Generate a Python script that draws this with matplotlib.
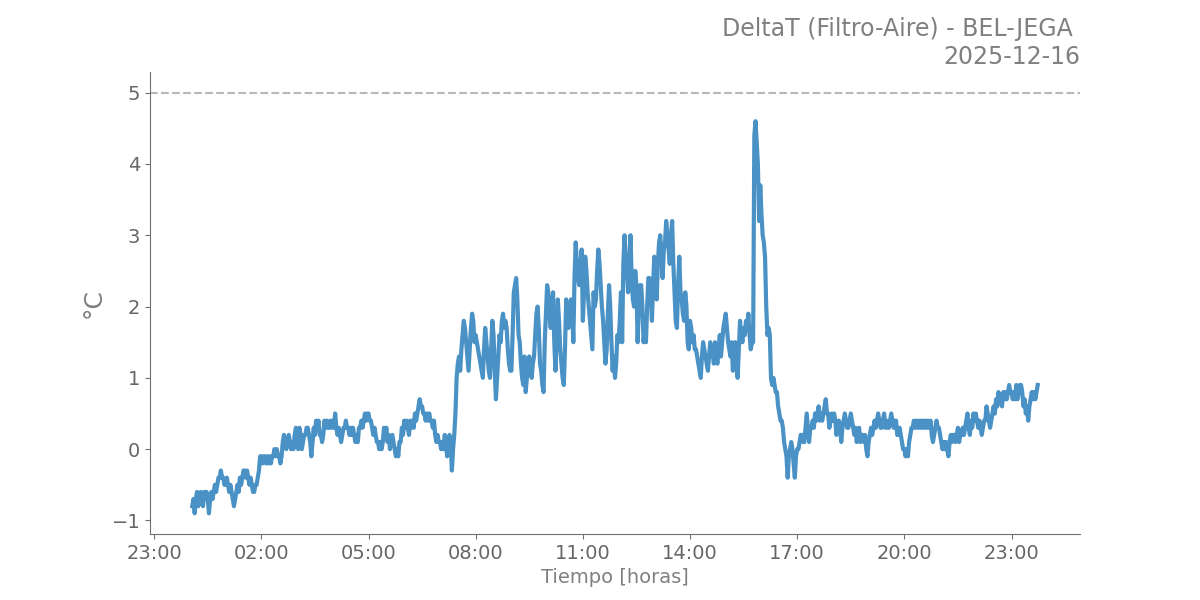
import pandas as pd
import matplotlib
matplotlib.use("Agg")
import matplotlib.pyplot as plt
import matplotlib.dates as mdates

fecha = "2025-12-16"
limite = 5.0

# DeltaT cada 2 minutos, una lista por hora (la hora 0 empieza a las 00:04)
h00 = [-0.8, -0.7, -0.9, -0.7, -0.6, -0.8, -0.7, -0.6, -0.7, -0.8, -0.6, -0.7, -0.6, -0.7,
       -0.9, -0.7, -0.6, -0.7, -0.6, -0.5, -0.6, -0.5, -0.4, -0.4, -0.3, -0.4, -0.4, -0.5]
h01 = [-0.5, -0.4, -0.5, -0.6, -0.5, -0.6, -0.7, -0.8, -0.7, -0.6, -0.5, -0.6, -0.4, -0.5, -0.4,
       -0.3, -0.3, -0.4, -0.3, -0.4, -0.5, -0.4, -0.5, -0.6, -0.6, -0.5, -0.5, -0.4, -0.3, -0.1]
h02 = [-0.1, -0.2, -0.1, -0.1, -0.2, -0.1, -0.2, -0.1, -0.2, -0.1, -0.1, 0.0, -0.1, 0.0, -0.1,
       -0.1, -0.2, -0.1, 0.1, 0.2, 0.1, 0.0, 0.1, 0.2, 0.1, 0.0, 0.1, 0.0, 0.2, 0.3]
h03 = [0.2, 0.0, 0.3, 0.2, 0.0, 0.1, 0.2, 0.2, 0.3, 0.3, 0.2, 0.1, -0.1, 0.1, 0.3,
       0.2, 0.4, 0.3, 0.4, 0.2, 0.2, 0.1, 0.2, 0.4, 0.3, 0.4, 0.3, 0.3, 0.4, 0.3]
h04 = [0.4, 0.3, 0.5, 0.3, 0.2, 0.3, 0.2, 0.1, 0.2, 0.3, 0.3, 0.4, 0.3, 0.3, 0.2,
       0.3, 0.2, 0.3, 0.2, 0.1, 0.2, 0.1, 0.3, 0.3, 0.4, 0.3, 0.4, 0.5, 0.4, 0.5]
h05 = [0.5, 0.4, 0.4, 0.3, 0.2, 0.3, 0.2, 0.1, 0.1, 0.0, 0.1, 0.0, 0.1, 0.3, 0.2,
       0.3, 0.1, 0.2, 0.0, 0.1, 0.2, 0.1, 0.0, -0.1, 0.0, -0.1, 0.1, 0.1, 0.3, 0.2]
h06 = [0.4, 0.3, 0.4, 0.3, 0.2, 0.4, 0.3, 0.4, 0.3, 0.5, 0.4, 0.5, 0.6, 0.7, 0.6,
       0.6, 0.5, 0.5, 0.4, 0.5, 0.4, 0.5, 0.4, 0.4, 0.3, 0.4, 0.2, 0.1, 0.2, 0.1]
h07 = [0.1, 0.0, 0.1, 0.0, 0.2, 0.1, -0.1, 0.1, 0.2, 0.1, -0.3, 0.0, 0.2, 0.5, 1.0,
       1.2, 1.3, 1.1, 1.4, 1.6, 1.8, 1.7, 1.5, 1.3, 1.1, 1.4, 1.7, 1.9, 1.8, 1.5]
h08 = [1.6, 1.5, 1.4, 1.3, 1.2, 1.1, 1.0, 1.4, 1.7, 1.5, 1.3, 1.1, 1.0, 1.4, 1.8,
       1.6, 1.1, 0.7, 1.0, 1.3, 1.6, 1.5, 1.8, 1.9, 1.7, 1.8, 1.7, 1.4, 1.2, 1.1]
h09 = [1.1, 1.6, 2.2, 2.3, 2.4, 2.1, 1.6, 1.5, 1.2, 1.0, 0.9, 1.3, 0.8, 1.0, 1.2,
       1.3, 1.1, 1.0, 1.2, 1.3, 1.6, 1.9, 2.0, 1.7, 1.2, 1.1, 0.9, 0.8, 1.5, 1.9]
h10 = [2.3, 2.2, 1.9, 1.7, 2.0, 2.2, 1.5, 1.1, 1.6, 2.1, 1.8, 1.4, 1.2, 1.0, 0.9,
       1.4, 2.1, 1.9, 1.7, 1.9, 2.1, 2.0, 1.5, 2.4, 2.9, 2.6, 2.4, 2.3, 2.6, 2.8]
h11 = [1.8, 2.2, 2.7, 2.5, 2.2, 2.0, 1.8, 1.6, 1.4, 2.2, 2.0, 2.1, 2.5, 2.8, 2.6,
       2.3, 2.0, 1.8, 1.5, 1.2, 1.4, 1.9, 2.3, 2.0, 1.5, 1.1, 1.3, 1.0, 1.2, 1.6]
h12 = [1.5, 1.8, 2.2, 1.5, 2.6, 3.0, 2.7, 2.5, 2.2, 2.6, 3.0, 2.4, 2.1, 2.0, 2.5,
       2.3, 1.5, 2.0, 2.3, 2.3, 2.0, 1.5, 1.7, 1.5, 2.0, 2.4, 2.4, 2.2, 1.8, 2.3]
h13 = [2.7, 2.4, 2.1, 2.6, 2.9, 3.0, 2.7, 2.4, 2.8, 2.9, 3.2, 3.0, 2.8, 2.6, 3.0,
       3.2, 2.6, 2.2, 1.8, 1.7, 2.3, 2.7, 2.2, 2.1, 1.9, 1.8, 2.2, 2.0, 1.5, 1.4]
h14 = [1.8, 1.7, 1.5, 1.6, 1.4, 1.4, 1.3, 1.2, 1.1, 1.0, 1.3, 1.5, 1.4, 1.3, 1.2,
       1.1, 1.3, 1.5, 1.3, 1.4, 1.2, 1.5, 1.3, 1.2, 1.4, 1.6, 1.3, 1.5, 1.7, 1.8]
h15 = [1.9, 1.7, 1.5, 1.4, 1.3, 1.5, 1.1, 1.4, 1.5, 1.2, 1.0, 1.4, 1.8, 1.6, 1.5,
       1.7, 1.6, 1.8, 1.7, 1.9, 1.6, 1.4, 1.5, 1.5, 4.4, 4.6, 4.3, 4.0, 3.2, 3.7]
h16 = [3.3, 3.0, 2.9, 2.7, 2.0, 1.6, 1.7, 1.6, 1.0, 0.9, 1.0, 0.9, 0.8, 0.8, 0.6,
       0.5, 0.4, 0.4, 0.3, 0.1, 0.0, -0.1, -0.4, -0.1, 0.0, 0.1, 0.0, -0.2, -0.4, -0.1]
h17 = [0.0, 0.0, 0.1, 0.2, 0.2, 0.1, 0.1, 0.3, 0.5, 0.3, 0.1, 0.3, 0.3, 0.4, 0.3,
       0.5, 0.4, 0.5, 0.6, 0.4, 0.5, 0.4, 0.5, 0.6, 0.7, 0.5, 0.5, 0.3, 0.4, 0.5]
h18 = [0.4, 0.5, 0.4, 0.2, 0.3, 0.4, 0.3, 0.1, 0.3, 0.4, 0.5, 0.4, 0.3, 0.3, 0.4,
       0.5, 0.4, 0.3, 0.2, 0.3, 0.1, 0.2, 0.3, 0.1, 0.2, 0.2, 0.1, 0.2, 0.0, -0.1]
h19 = [0.1, 0.2, 0.3, 0.2, 0.3, 0.4, 0.3, 0.4, 0.5, 0.4, 0.3, 0.3, 0.4, 0.5, 0.3,
       0.4, 0.3, 0.3, 0.4, 0.5, 0.4, 0.3, 0.4, 0.4, 0.2, 0.2, 0.3, 0.2, 0.1, 0.0]
h20 = [0.0, -0.1, 0.0, -0.1, 0.1, 0.2, 0.3, 0.3, 0.4, 0.3, 0.4, 0.3, 0.4, 0.3, 0.4,
       0.3, 0.4, 0.3, 0.4, 0.3, 0.4, 0.3, 0.4, 0.2, 0.1, 0.2, 0.3, 0.4, 0.3, 0.3]
h21 = [0.2, 0.1, 0.0, 0.1, 0.0, 0.1, 0.0, -0.1, 0.1, 0.2, 0.1, 0.2, 0.2, 0.1, 0.2,
       0.3, 0.1, 0.2, 0.2, 0.3, 0.2, 0.3, 0.4, 0.5, 0.3, 0.2, 0.4, 0.3, 0.5, 0.4]
h22 = [0.5, 0.4, 0.3, 0.4, 0.3, 0.2, 0.3, 0.4, 0.4, 0.6, 0.5, 0.4, 0.3, 0.4, 0.5,
       0.6, 0.5, 0.7, 0.6, 0.8, 0.7, 0.7, 0.6, 0.8, 0.7, 0.8, 0.7, 0.8, 0.9, 0.8]
h23 = [0.8, 0.7, 0.8, 0.7, 0.9, 0.7, 0.8, 0.9, 0.9, 0.8, 0.6, 0.7, 0.5, 0.6, 0.4,
       0.6, 0.7, 0.8, 0.7, 0.8, 0.7, 0.8, 0.9]

horas = [h00, h01, h02, h03, h04, h05, h06, h07, h08, h09, h10, h11,
         h12, h13, h14, h15, h16, h17, h18, h19, h20, h21, h22, h23]

tiempo = []
deltat = []
for h, vals in enumerate(horas):
    inicio = pd.Timestamp(fecha) + pd.Timedelta(hours=h, minutes=4 if h == 0 else 0)
    tiempo.extend(pd.date_range(inicio, periods=len(vals), freq="2min"))
    deltat.extend(vals)

gris = "#808080"
fig, ax = plt.subplots(figsize=(12, 6), dpi=100)
ax.plot(tiempo, deltat, color="#4a92c5", linewidth=3)
ax.axhline(limite, color="#b8b8b8", linestyle="--", linewidth=1.5)

ax.set_ylim(-1.19, 5.29)
ax.xaxis.set_major_locator(mdates.HourLocator(byhour=[2, 5, 8, 11, 14, 17, 20, 23]))
ax.xaxis.set_major_formatter(mdates.DateFormatter("%H:%M"))

ax.spines["top"].set_visible(False)
ax.spines["right"].set_visible(False)
for s in ["left", "bottom"]:
    ax.spines[s].set_color("#707070")
ax.tick_params(colors="#707070", labelsize=14, labelcolor="#666666")

ax.set_xlabel("Tiempo [horas]", fontsize=14, color=gris)
ax.set_ylabel("°C", fontsize=18, color=gris)
ax.set_title("DeltaT (Filtro-Aire) - BEL-JEGA \n" + fecha, loc="right", fontsize=17, color=gris)

plt.savefig("out.png")
